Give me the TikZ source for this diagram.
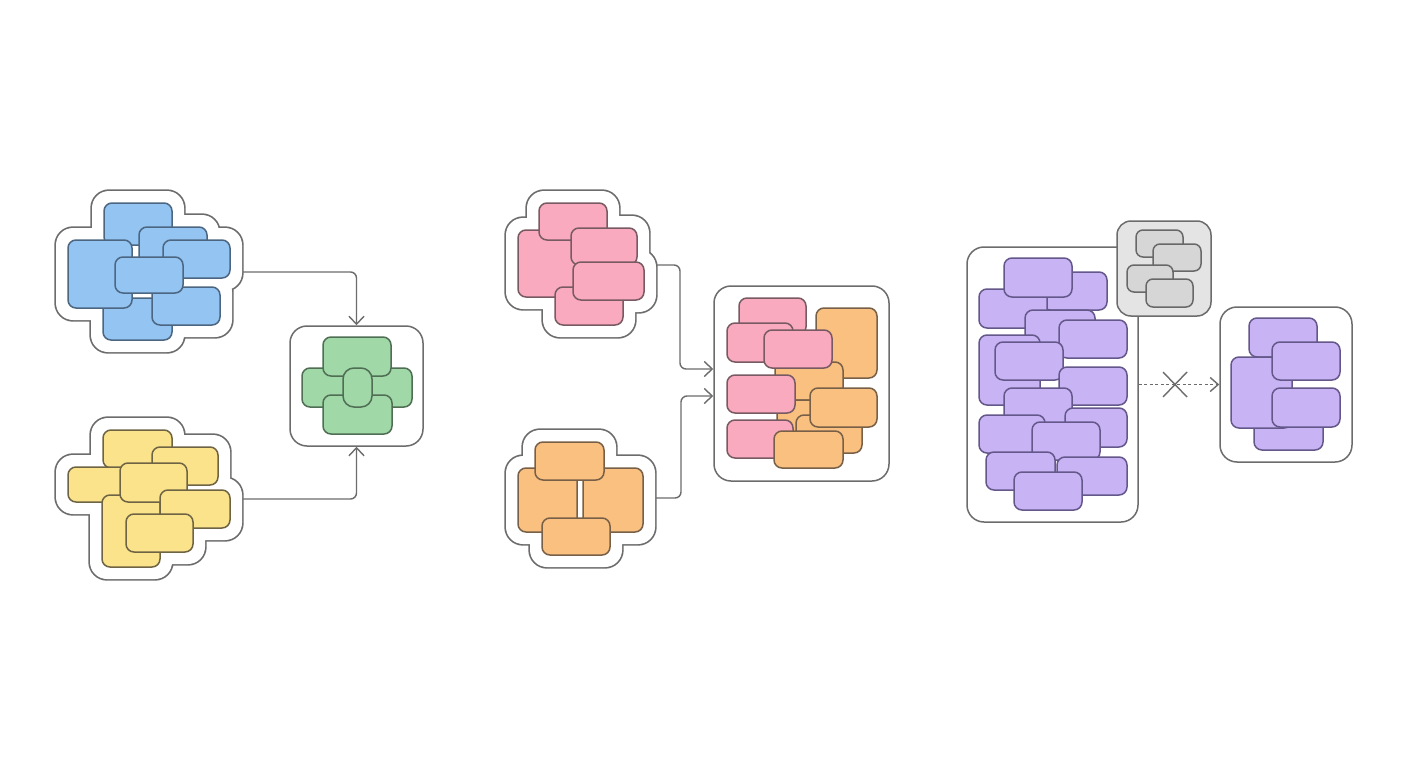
\documentclass[tikz,border=0pt]{standalone}
\usetikzlibrary{arrows.meta,calc}
\definecolor{edge}{HTML}{6C6C6C}
\definecolor{bluef}{HTML}{93C4F2}\definecolor{blued}{HTML}{4C6681}
\definecolor{yelf}{HTML}{FBE38C}\definecolor{yeld}{HTML}{6E6444}
\definecolor{grnf}{HTML}{A0D8A8}\definecolor{grnd}{HTML}{4F6E53}
\definecolor{pinkf}{HTML}{F9AABF}\definecolor{pinkd}{HTML}{785A63}
\definecolor{orgf}{HTML}{F9C080}\definecolor{orgd}{HTML}{786048}
\definecolor{purf}{HTML}{C8B3F4}\definecolor{purd}{HTML}{64578A}
\definecolor{gryf}{HTML}{D6D6D6}\definecolor{gryd}{HTML}{686868}
\definecolor{grybox}{HTML}{E4E4E4}
\tikzset{
  rr/.style={rounded corners=8pt, line width=1.5pt},
  bluer/.style={rr, fill=bluef, draw=blued},
  yelr/.style={rr, fill=yelf, draw=yeld},
  grnr/.style={rr, fill=grnf, draw=grnd},
  pinkr/.style={rr, fill=pinkf, draw=pinkd},
  orgr/.style={rr, fill=orgf, draw=orgd},
  purr/.style={rr, fill=purf, draw=purd},
  gryr/.style={rr, rounded corners=7pt, fill=gryf, draw=gryd},
  blobline/.style={draw=edge, line width=3.4pt, rounded corners=17pt},
  blobfill/.style={fill=white, rounded corners=17pt},
  box/.style={draw=edge, fill=white, line width=1.5pt, rounded corners=17pt, inner sep=0pt},
  conn/.style={draw=edge, line width=1.4pt, rounded corners=6pt,
    -{Straight Barb[length=8pt,width=15pt,line width=1.4pt]}},
  dconn/.style={draw=edge, line width=1.5pt, dash pattern=on 3pt off 2.5pt,
    -{Straight Barb[length=8pt,width=14pt,line width=1.4pt]}},
}
\newcommand\bluelist{\X{104}{203}{172}{245}\X{103}{298}{172}{340}\X{139}{227}{207}{268}\X{68}{240}{132}{308}\X{163}{240}{230}{278}\X{152}{287}{220}{325}\X{115}{257}{183}{293}}
\newcommand\yellist{\X{103}{430}{172}{468}\X{152}{447}{218}{485}\X{68}{467}{135}{502}\X{102}{495}{160}{567}\X{120}{463}{187}{502}\X{160}{490}{230}{528}\X{126}{514}{193}{552}}
\newcommand\pinklist{\X{518}{230}{585}{297}\X{539}{203}{607}{240}\X{555}{287}{623}{325}\X{571}{228}{637}{265}\X{573}{262}{644}{300}}
\newcommand\orglist{\X{518}{468}{577}{532}\X{583}{468}{643}{532}\X{535}{442}{604}{480}\X{542}{518}{610}{555}}
\begin{document}
\begin{tikzpicture}[x=1pt,y=-1pt]
\useasboundingbox[fill=white] (0,0) rectangle (1408,768);

% containers
\node[box, minimum width=133pt, minimum height=120pt] (green) at (356.5,386) {};
\node[box, minimum width=175pt, minimum height=195pt] (comp) at (801.5,383.5) {};
\node[box, minimum width=171pt, minimum height=275pt] (purbox) at (1052.5,384.5) {};
\node[box, minimum width=132pt, minimum height=155pt] (res) at (1286,384.5) {};
\node[box, fill=grybox, rounded corners=14pt, minimum width=94pt, minimum height=95pt] (grybx) at (1164,268.5) {};

% blob exits
\coordinate (blueout) at (236,272);
\coordinate (yelout) at (236,499);
\coordinate (pinkout) at (646,265);
\coordinate (orgout) at (646,498);

% connectors
\draw[conn] (blueout) -| (green.north);
\draw[conn] (yelout) -| (green.south);
\draw[conn] (pinkout) -| (680,330) |- ($(comp.west)+(0,-14.5)$);
\draw[conn] (orgout) -| (681,430) |- ($(comp.west)+(0,12.5)$);
\draw[dconn] (purbox.east) -- (res.west);
\draw[draw=edge, line width=1.4pt] (1163,372) -- (1187,397) (1163,397) -- (1187,372);

% blobs
\def\X#1#2#3#4{\path[blobline] (#1-12,#2-12) rectangle (#3+12,#4+12);}
\bluelist\yellist\pinklist\orglist
\def\X#1#2#3#4{\path[blobfill] (#1-12,#2-12) rectangle (#3+12,#4+12);}
\bluelist\yellist\pinklist\orglist
\def\X#1#2#3#4{\filldraw[bluer] (#1,#2) rectangle (#3,#4);}\bluelist
\def\X#1#2#3#4{\filldraw[yelr] (#1,#2) rectangle (#3,#4);}\yellist
\def\X#1#2#3#4{\filldraw[pinkr] (#1,#2) rectangle (#3,#4);}\pinklist
\def\X#1#2#3#4{\filldraw[orgr] (#1,#2) rectangle (#3,#4);}\orglist

% green
\def\X#1#2#3#4{\filldraw[grnr] (#1,#2) rectangle (#3,#4);}
\X{302}{368}{412}{407}\X{323}{337}{391}{376}\X{323}{395}{392}{434}
\filldraw[grnr, rounded corners=11pt] (343,368) rectangle (372,407);

% composite
\def\P#1#2#3#4{\filldraw[pinkr] (#1,#2) rectangle (#3,#4);}
\def\O#1#2#3#4{\filldraw[orgr] (#1,#2) rectangle (#3,#4);}
\P{739}{298}{806}{335}\O{816}{308}{877}{378}\O{775}{362}{843}{400}\O{777}{400}{845}{440}
\P{727}{323}{793}{362}\P{764}{330}{832}{368}\P{727}{375}{795}{413}
\O{796}{415}{862}{453}\O{810}{388}{877}{427}\P{727}{420}{793}{458}\O{774}{431}{843}{468}

% purple
\def\X#1#2#3#4{\filldraw[purr] (#1,#2) rectangle (#3,#4);}
\X{1042}{272}{1107}{310}\X{979}{289}{1047}{328}\X{1004}{258}{1072}{297}
\X{1025}{310}{1095}{350}\X{1059}{320}{1127}{358}\X{979}{335}{1040}{405}
\X{995}{342}{1063}{380}\X{1059}{367}{1127}{405}\X{1004}{388}{1072}{427}
\X{1065}{408}{1127}{447}\X{979}{415}{1045}{453}\X{1032}{422}{1100}{460}
\X{986}{452}{1055}{490}\X{1057}{457}{1127}{495}\X{1014}{472}{1082}{510}

% result
\X{1249}{318}{1317}{357}\X{1254}{412}{1323}{450}\X{1231}{357}{1292}{428}
\X{1272}{342}{1340}{380}\X{1272}{388}{1340}{427}

% gray
\def\X#1#2#3#4{\filldraw[gryr] (#1,#2) rectangle (#3,#4);}
\draw[draw=gryd, line width=1.2pt] (1172,268) -- (1172,282);
\X{1136}{230}{1183}{257}\X{1153}{244}{1201}{271}\X{1127}{265}{1173}{292}\X{1146}{279}{1193}{307}
\end{tikzpicture}
\end{document}
